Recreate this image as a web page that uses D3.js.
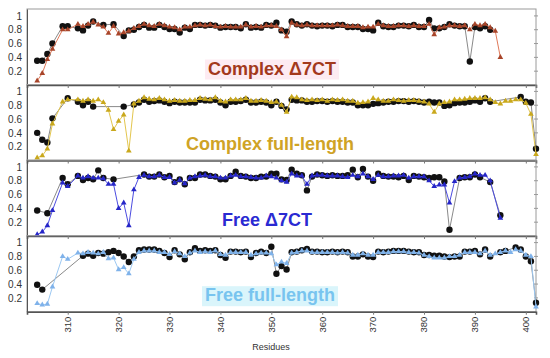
<!DOCTYPE html>
<html>
<head>
<meta charset="utf-8">
<script src="https://cdn.jsdelivr.net/npm/d3@7"></script>
<style>
  body { margin: 0; background: #fff; }
  svg { display: block; font-family: "Liberation Sans", Arial, sans-serif; }
</style>
</head>
<body>
<div id="chart"></div>
<script>
// residue numbers on the x axis (308 and 311 have no data)
var residues = [
  304,305,306,307,308,309,310,311,312,313,
  314,315,316,317,318,319,320,321,322,323,
  324,325,326,327,328,329,330,331,332,333,
  334,335,336,337,338,339,340,341,342,343,
  344,345,346,347,348,349,350,351,352,353,
  354,355,356,357,358,359,360,361,362,363,
  364,365,366,367,368,369,370,371,372,373,
  374,375,376,377,378,379,380,381,382,383,
  384,385,386,387,388,389,390,391,392,393,
  394,395,396,397,398,399,400,401,402
];

var xTicks = [310,320,330,340,350,360,370,380,390,400];
var yTicks = [0.2,0.4,0.6,0.8,1];

var panelNames = ["Complex \u03947CT", "Complex full-length", "Free \u03947CT", "Free full-length"];

// black circles (gray line) in each panel
var complexD7_circles = [
  .35,.35,.45,.60,null,.85,.85,null,.82,.79,
  .86,.92,null,.87,null,.88,null,.71,.79,.80,
  .84,.87,.83,.83,.87,.84,.81,.81,.76,.83,
  .81,.87,.87,.86,.87,.86,.83,.84,.84,.84,
  .82,.88,.83,.84,.83,.87,.86,.90,.79,.77,
  .92,.88,.86,.88,.86,.85,.86,.86,.85,.87,
  .87,.84,.84,.84,.81,.81,.79,.90,.85,.84,
  .84,.86,.86,.85,.87,.84,.84,.94,.82,.82,
  .84,.88,.86,.85,.85,.34,.84,.82,.85,.80,
  null,null,null,null,null,null,null,null,null
];
var complexD7_triangles = [
  .06,.17,.37,.52,null,.80,.80,null,.88,.85,
  .88,.91,.87,.84,.75,.85,.74,.76,.78,.82,
  .85,.88,.86,.85,.88,.86,.84,.83,.80,.84,
  .84,.86,.87,.86,.87,.85,.84,.85,.84,.84,
  .84,.87,.84,.85,.84,.86,.86,.85,.80,.70,
  .90,.87,.86,.87,.86,.86,.86,.86,.86,.87,
  .86,.85,.85,.85,.83,.84,.84,.88,.86,.85,
  .85,.86,.86,.85,.86,.85,.85,.88,.73,.83,
  .84,.86,.86,.85,.86,.80,.88,.86,.88,.83,
  .78,.40,null,null,null,null,null,null,null
];
var complexFL_circles = [
  .40,.30,.26,.61,null,null,.90,null,.85,.80,
  .85,.78,null,null,null,null,null,.78,null,.81,
  .84,.88,.85,.86,.87,.85,.83,.85,.84,.84,
  .84,.84,.88,.87,.87,.88,.84,.80,.85,.85,
  .86,.88,.84,.84,.85,.84,.80,.85,.79,.74,
  .88,.87,.87,.85,.85,.86,.86,.85,.86,.85,
  .85,.84,.84,.80,.80,.80,.82,.83,.84,.85,
  .85,.86,.86,.85,.86,.85,.84,.85,.84,.84,
  .79,.80,.83,.84,.84,.85,.87,.85,.90,.85,
  null,null,null,null,null,.92,.85,.84,.17
];
var complexFL_triangles = [
  .04,.07,.17,.53,null,.85,.88,null,.88,.86,
  .88,.86,.88,.84,.73,.45,.57,.66,.14,.82,
  .86,.91,.89,.88,.90,.88,.86,.87,.86,.86,
  .87,.87,.90,.89,.88,.91,.86,.85,.88,.88,
  .88,.90,.86,.86,.87,.86,.84,.85,.80,.70,
  .92,.91,.88,.87,.88,.87,.88,.86,.88,.87,
  .88,.86,.86,.83,.84,.85,.90,.88,.86,.86,
  .88,.87,.86,.87,.87,.86,.85,.82,.70,.82,
  .84,.85,.88,.88,.89,.90,.90,.90,.91,.88,
  .84,.82,.86,.86,.88,.88,.83,.67,.09
];
var freeD7_circles = [
  .37,null,.33,null,null,.84,.75,null,.87,.81,
  .84,.82,.95,.84,null,.82,null,null,null,null,
  null,.89,.86,.86,.89,.85,.87,.78,.82,.75,
  .84,.84,.89,.89,.87,.86,.82,.82,.87,.93,
  .87,.86,.84,.84,.86,.86,.90,.90,.82,.81,
  .96,.90,.88,.66,.86,.89,.88,.87,.88,.87,
  .87,.88,.96,.85,.97,.86,.80,.90,.87,.86,
  .86,.85,.87,.81,.87,.86,.85,.84,.85,.85,
  .79,.09,null,.84,.85,.85,.89,.85,null,.78,
  null,.30,null,null,null,null,null,null,null
];
var freeD7_triangles = [
  .02,.06,.15,.37,null,.77,.72,null,.87,.84,
  .86,.84,.84,.83,.75,.75,.40,.48,.15,.67,
  .85,.88,.86,.86,.88,.85,.85,.77,.81,.76,
  .84,.86,.87,.88,.86,.86,.84,.84,.87,.88,
  .86,.86,.85,.84,.84,.87,.86,.84,.80,.78,
  .90,.87,.87,.75,.87,.88,.88,.87,.87,.87,
  .86,.85,.88,.86,.90,.86,.82,.88,.86,.86,
  .87,.87,.88,.84,.86,.86,.86,.80,.72,.74,
  .74,.48,.79,.84,.85,.86,.90,.88,.88,.80,
  null,.26,null,null,null,null,null,null,null
];
var freeFL_circles = [
  .39,.32,null,null,null,null,null,null,null,.81,
  .84,.81,.85,.84,.86,.88,.85,.80,.72,.80,
  .89,.90,.90,.90,.88,.85,.79,.89,.83,.76,
  .86,.92,.88,.89,.88,.89,.82,.78,.87,.87,
  .86,.87,.79,.85,.87,.85,.94,.55,.66,.61,
  .86,.87,.89,.91,.87,.87,.86,.86,.87,.86,
  .87,.86,.80,.80,.83,.80,.79,.87,.86,.87,
  .88,.88,.88,.87,.86,.86,.82,.82,.81,.81,
  .80,.79,.80,.80,.87,.87,.88,.83,.90,.80,
  null,.86,.88,null,.93,.90,.80,.73,.13
];
var freeFL_triangles = [
  .12,.10,.11,.36,null,.80,.76,null,.85,.84,
  .86,.85,.84,.86,.77,.78,.61,.64,.55,.76,
  .86,.88,.88,.88,.86,.86,.83,.87,.84,.80,
  .85,.88,.86,.87,.86,.88,.83,.82,.86,.86,
  .86,.86,.82,.84,.85,.85,.84,.68,.72,.70,
  .85,.86,.88,.88,.86,.86,.86,.86,.86,.85,
  .86,.85,.82,.82,.84,.82,.82,.86,.86,.86,
  .87,.87,.87,.86,.86,.85,.82,.80,.78,.78,
  .78,.80,.80,.82,.86,.86,.86,.84,.88,.82,
  .84,.86,.88,.86,.90,.88,.82,.80,.07
];

var circleSeries = [complexD7_circles, complexFL_circles, freeD7_circles, freeFL_circles];
var triangleSeries = [complexD7_triangles, complexFL_triangles, freeD7_triangles, freeFL_triangles];

// styles per panel
var triColor  = ["#a8452a", "#c9a81c", "#2626c8", "#7fb2ea"];
var triLine   = ["#e07a5a", "#e3c64e", "#4c4ce0", "#9cc8f2"];
var labelColor = ["#a3391c", "#cfa326", "#2a2ad2", "#78c4ef"];
var labelBg   = ["#fdebf2", null, null, "#daf5fb"];
var labelX    = [272, 270, 267, 270];

// layout
var svgWidth = 550, svgHeight = 358;
var left = 27, right = 536;
var panelBottoms = [85, 160.5, 236, 311.7];
var panelH = 76;

var svg = d3.select("#chart").append("svg")
  .attr("width", svgWidth)
  .attr("height", svgHeight);

var x = d3.scaleLinear().domain([302, 402]).range([left, right]);

panelNames.forEach(function(name, i) {
  var bottom = panelBottoms[i];
  var top = bottom - panelH;
  var y = d3.scaleLinear().domain([0, 1.1]).range([bottom, top]);
  var g = svg.append("g");

  // panel label
  var label = g.append("text")
    .attr("x", labelX[i])
    .attr("y", bottom - 10.5)
    .attr("text-anchor", "middle")
    .attr("font-size", "18px")
    .attr("font-weight", "bold")
    .attr("fill", labelColor[i])
    .text(name);
  if (labelBg[i]) {
    var bb = label.node().getBBox();
    g.insert("rect", "text")
      .attr("x", bb.x - 3).attr("y", bb.y + 1)
      .attr("width", bb.width + 6).attr("height", bb.height)
      .attr("fill", labelBg[i]);
  }

  // frame
  g.append("rect")
    .attr("x", left).attr("y", top)
    .attr("width", right - left).attr("height", panelH)
    .attr("fill", "none")
    .attr("stroke", "#9a9a9a")
    .attr("stroke-width", 1);

  // left axis
  var leftAxis = d3.axisLeft(y)
    .tickValues(yTicks)
    .tickFormat(function(d) { return d === 1 ? "1" : d3.format(".1f")(d); })
    .tickSize(0)
    .tickPadding(5);
  var ly = g.append("g").attr("transform", "translate(" + left + ",0)").call(leftAxis);
  ly.select(".domain").attr("stroke", "#555");
  ly.selectAll("text").attr("font-size", "10px").attr("fill", "#333")
    .attr("font-family", "'Liberation Sans', Arial, sans-serif");

  // right side ticks
  g.selectAll(".rtick").data(yTicks).enter().append("line")
    .attr("x1", right - 2).attr("x2", right + 2)
    .attr("y1", function(d) { return y(d); })
    .attr("y2", function(d) { return y(d); })
    .attr("stroke", "#999");

  // bottom axis (ticks only, labels on the last panel)
  var bottomAxis = d3.axisBottom(x).tickValues(xTicks).tickSize(3).tickFormat("");
  var bx = g.append("g").attr("transform", "translate(0," + bottom + ")").call(bottomAxis);
  bx.select(".domain").attr("stroke", "#555").attr("stroke-width", 1.6);
  bx.selectAll(".tick line").attr("stroke", "#777");

  // build point lists
  var circ = [], tri = [];
  residues.forEach(function(r, k) {
    if (circleSeries[i][k] != null) circ.push({ r: r, v: circleSeries[i][k] });
    if (triangleSeries[i][k] != null) tri.push({ r: r, v: triangleSeries[i][k] });
  });

  var line = d3.line()
    .x(function(d) { return x(d.r); })
    .y(function(d) { return y(d.v); });

  g.append("path").datum(circ)
    .attr("d", line)
    .attr("fill", "none")
    .attr("stroke", "#8a8a8a")
    .attr("stroke-width", 1);

  g.selectAll(".dot").data(circ).enter().append("circle")
    .attr("cx", function(d) { return x(d.r); })
    .attr("cy", function(d) { return y(d.v); })
    .attr("r", 3.2)
    .attr("fill", "#111");

  g.append("path").datum(tri)
    .attr("d", line)
    .attr("fill", "none")
    .attr("stroke", triLine[i])
    .attr("stroke-width", 1);

  g.selectAll(".tri").data(tri).enter().append("path")
    .attr("transform", function(d) { return "translate(" + x(d.r) + "," + y(d.v) + ")"; })
    .attr("d", d3.symbol().type(d3.symbolTriangle).size(14))
    .attr("fill", triColor[i]);

  // x tick labels under the last panel
  if (i === panelNames.length - 1) {
    g.selectAll(".xlab").data(xTicks).enter().append("text")
      .attr("transform", function(d) { return "translate(" + x(d) + "," + (bottom + 5) + ") rotate(-90)"; })
      .attr("text-anchor", "end")
      .attr("dy", "0.35em")
      .attr("font-size", "9.5px")
      .attr("fill", "#333")
      .text(function(d) { return d; });
  }
});

// axis title
svg.append("text")
  .attr("x", 271)
  .attr("y", 350)
  .attr("text-anchor", "middle")
  .attr("font-size", "9px")
  .attr("fill", "#333")
  .text("Residues");
</script>
</body>
</html>
